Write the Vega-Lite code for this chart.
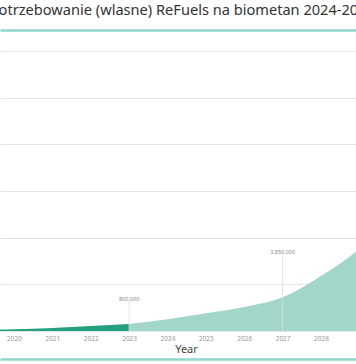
{
  "$schema": "https://vega.github.io/schema/vega-lite/v6.json",
  "width": 356,
  "height": 280,
  "autosize": "none",
  "padding": {"left": 0, "right": 0, "top": 51, "bottom": 33},
  "background": "white",
  "title": {
    "text": "Zapotrzebowanie (wlasne) ReFuels na biometan 2024-2030",
    "font": "Noto Sans",
    "fontSize": 14.6,
    "fontWeight": "normal",
    "color": "#333333",
    "anchor": "middle",
    "frame": "group",
    "offset": 12,
    "dx": -4
  },
  "config": {
    "view": {"stroke": null},
    "axis": {"labelFont": "Noto Sans", "titleFont": "Noto Sans"}
  },
  "datasets": {
    "series": [
      {"year": 2019, "value": 120000, "series": "hist"},
      {"year": 2020, "value": 200000, "series": "hist"},
      {"year": 2021, "value": 350000, "series": "hist"},
      {"year": 2022, "value": 570000, "series": "hist"},
      {"year": 2023, "value": 800000, "series": "hist"},
      {"year": 2023, "value": 800000, "series": "proj"},
      {"year": 2024, "value": 1340000, "series": "proj"},
      {"year": 2025, "value": 2020000, "series": "proj"},
      {"year": 2026, "value": 2740000, "series": "proj"},
      {"year": 2027, "value": 3850000, "series": "proj"},
      {"year": 2028, "value": 6300000, "series": "proj"},
      {"year": 2029, "value": 9400000, "series": "proj"},
      {"year": 2030, "value": 14000000, "series": "proj"}
    ],
    "notes": [
      {"year": 2023, "value": 800000, "label": "800,000"},
      {"year": 2027, "value": 3850000, "label": "3,850,000"}
    ]
  },
  "resolve": {"axis": {"x": "independent"}},
  "layer": [
    {
      "data": {"name": "series"},
      "mark": {"type": "area", "interpolate": "monotone", "clip": true},
      "encoding": {
        "x": {
          "field": "year", "type": "quantitative",
          "scale": {"domain": [2019.6352, 2028.9121], "nice": false, "zero": false},
          "axis": {
            "title": "Year", "titleFontSize": 11, "titleColor": "#444444", "titleFontWeight": "normal",
            "titleX": 186, "titlePadding": 2,
            "values": [2020, 2021, 2022, 2023, 2024, 2025, 2026, 2027, 2028, 2029],
            "format": "d", "labelFontSize": 6.5, "labelColor": "#999999",
            "labelPadding": 4, "ticks": false, "domain": false, "grid": false, "labelFlush": false
          }
        },
        "y": {
          "field": "value", "type": "quantitative", "stack": null,
          "scale": {"domain": [0, 32000000], "nice": false},
          "axis": {
            "title": null, "labels": false, "ticks": false, "domain": false,
            "grid": true, "gridColor": "#e4e4e4", "gridWidth": 1,
            "values": [0, 2666667, 5333333, 8000000, 10666667, 13333333, 16000000, 18666667, 21333333, 24000000, 26666667, 29333333, 32000000]
          }
        },
        "color": {
          "field": "series", "type": "nominal",
          "scale": {"domain": ["hist", "proj"], "range": ["#24a07f", "#a3d6ca"]},
          "legend": null
        },
        "fillOpacity": {"value": 1}
      }
    },
    {
      "data": {"name": "notes"},
      "transform": [{"filter": "datum.year == 2023"}],
      "mark": {"type": "rule", "color": "#dddddd", "strokeWidth": 0.8, "yOffset": -22},
      "encoding": {
        "x": {"field": "year", "type": "quantitative",
          "axis": {"orient": "top", "labels": false, "ticks": false, "grid": false, "title": null,
            "domain": true, "domainColor": "#8fd6cd", "domainWidth": 2.5, "offset": 21}},
        "y": {"field": "value", "type": "quantitative"},
        "y2": {"datum": 0}
      }
    },
    {
      "data": {"name": "notes"},
      "transform": [{"filter": "datum.year == 2027"}],
      "mark": {"type": "rule", "color": "#dddddd", "strokeWidth": 0.8, "yOffset": -41},
      "encoding": {
        "x": {"field": "year", "type": "quantitative",
          "axis": {"orient": "bottom", "labels": false, "ticks": false, "grid": false, "title": null,
            "domain": true, "domainColor": "#8fd6cd", "domainWidth": 2.5, "offset": 28}},
        "y": {"field": "value", "type": "quantitative"},
        "y2": {"datum": 0}
      }
    },
    {
      "data": {"name": "notes"},
      "transform": [{"filter": "datum.year == 2023"}],
      "mark": {"type": "text", "fontSize": 5.5, "color": "#888888", "font": "Noto Sans", "dy": -25, "baseline": "middle"},
      "encoding": {
        "x": {"field": "year", "type": "quantitative", "axis": null},
        "y": {"field": "value", "type": "quantitative"},
        "text": {"field": "label"}
      }
    },
    {
      "data": {"name": "notes"},
      "transform": [{"filter": "datum.year == 2027"}],
      "mark": {"type": "text", "fontSize": 5.5, "color": "#888888", "font": "Noto Sans", "dy": -45, "baseline": "middle"},
      "encoding": {
        "x": {"field": "year", "type": "quantitative", "axis": null},
        "y": {"field": "value", "type": "quantitative"},
        "text": {"field": "label"}
      }
    }
  ]
}
